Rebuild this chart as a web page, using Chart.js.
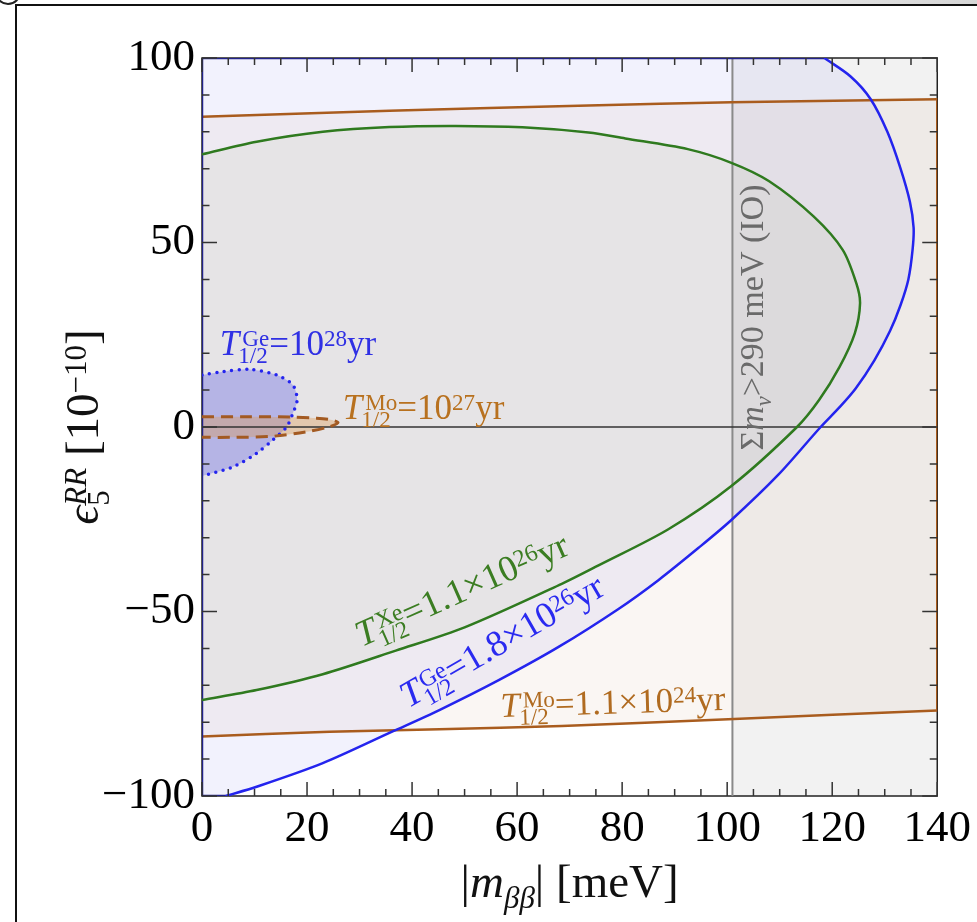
<!DOCTYPE html>
<html>
<head>
<meta charset="utf-8">
<script src="https://cdn.jsdelivr.net/npm/chart.js@4/dist/chart.umd.min.js"></script>
<style>
  html, body { margin: 0; padding: 0; background: #fff; }
  #wrap { position: relative; width: 977px; height: 922px; overflow: hidden; }
  #topbar { position: absolute; left: 0; top: 0; width: 977px; height: 5px;
    background: linear-gradient(to right, #fff 45%, #d6d6d6 100%); }
  #frame { position: absolute; left: 15px; top: 4px; right: -20px; bottom: -20px;
    border-top: 2px solid #111; border-left: 2px solid #111; }
  #corner { position: absolute; left: -5px; top: -21px; width: 22px; height: 22px;
    border: 2px solid #222; border-radius: 50%; }
  #chart { position: absolute; left: 0; top: 0; }
</style>
</head>
<body>
<div id="wrap">
  <div id="topbar"></div>
  <div id="corner"></div>
  <div id="frame"></div>
  <canvas id="chart" width="977" height="922"></canvas>
</div>
<script>
// axis ticks
const xTicks = [0, 20, 40, 60, 80, 100, 120, 140];
const yTicks = [-100, -50, 0, 50, 100];

// T1/2(Mo) = 1.1e24 yr, upper and lower line  [|m_bb| meV, eps 1e-10]
const moTop = [[0, 84.1], [35.7, 85.7], [73.6, 87.1], [100.8, 88.0], [140, 88.8]];
const moBottom = [[0, -83.9], [24.3, -82.6], [45.2, -81.9], [68.5, -81.0], [100.2, -79.2], [140, -76.8]];

// T1/2(Ge) = 1.8e26 yr, from top edge to bottom edge
const geCurve = [[118.5, 100], [123.5, 95], [127.3, 88.9], [130.5, 80], [133, 70.1], [134.8, 61],
  [135.5, 54], [135.3, 48], [134.5, 40], [133, 33], [131, 26], [128, 18], [124.5, 10.5], [121.5, 5.5],
  [117.8, 0], [109.7, -13], [100.8, -25.2], [94.5, -32.8], [86.9, -41.5], [79.3, -49.3], [67.9, -59.6],
  [56.5, -68.6], [45.2, -76.7], [36.3, -82.5], [23, -91.1], [10.4, -97.5], [4.5, -100]];

// T1/2(Xe) = 1.1e26 yr
const xeCurve = [[0, 73.9], [10.4, 77.3], [23, 80], [35.7, 81.3], [48.3, 81.6], [61, 81.2], [73.6, 79.8],
  [80.6, 78.2], [92.5, 75.3], [100.8, 71.6], [108, 66.6], [116.5, 57], [122, 48], [124.6, 38.9],
  [125.3, 33.5], [124.3, 25.4], [121.4, 16.3], [117.5, 7.3], [113.3, 0], [100.8, -16], [88.8, -27.7],
  [75.5, -37.5], [68.5, -42.5], [50, -54.3], [36.9, -60.6], [23, -67], [10.4, -71.3], [0, -74]];

// T1/2(Ge) = 1e28 yr (dotted)
const ge28Curve = [[0, 14.1], [4, 15], [9.1, 15.6], [14.2, 14.1], [17.3, 11.4], [18.1, 7.3], [17.3, 3.7],
  [16.1, 0], [13.5, -3.5], [10.4, -7.1], [5.9, -10.8], [0, -13.3]];

// T1/2(Mo) = 1e27 yr (dashed)
const mo27Curve = [[0, 2.8], [9, 2.8], [16.7, 2.7], [21.8, 2.4], [24.3, 2.0], [25.9, 1.2], [24.3, 0.1],
  [19.9, -1.3], [13.6, -2.5], [6, -2.8], [0, -2.8]];

// sum m_nu > 290 meV (IO)
const ioMass = 101;

const serif = '"Liberation Serif", "Times New Roman", serif';
const pts = arr => arr.map(([x, y]) => ({ x, y }));

const BLUE = '#2424ee';
const GREEN = '#2f7a1f';
const BROWN = '#a95c1e';

function line(data, color, width, order, extra) {
  return Object.assign({
    data: pts(data), showLine: true, pointRadius: 0, borderColor: color, borderWidth: width,
    backgroundColor: 'transparent', fill: false, tension: 0.3, order: order,
    borderJoinStyle: 'round'
  }, extra || {});
}
function region(data, color, order) {
  return { data: pts(data), showLine: true, pointRadius: 0, borderWidth: 0, borderColor: 'transparent',
    backgroundColor: color, fill: 'shape', tension: 0, order: order };
}

const datasets = [
  region([[ioMass, -100], [ioMass, 100], [140, 100], [140, -100]], 'rgba(0,0,0,0.05)', 20),
  region([...moTop, ...moBottom.slice().reverse()], 'rgba(170,110,50,0.06)', 19),
  region([[0, 100], ...geCurve, [0, -100]], 'rgba(90,90,230,0.08)', 18),
  line([[ioMass, -100], [ioMass, 100]], '#8a8a8a', 2, 12, { tension: 0 }),
  line([[0, 0], [140, 0]], '#333', 1.5, 11, { tension: 0 }),
  line(moTop, BROWN, 2.5, 10),
  line(moBottom, BROWN, 2.5, 9),
  line([[140, moTop[moTop.length - 1][1]], [140, moBottom[moBottom.length - 1][1]]], BROWN, 2.5, 8, { tension: 0 }),
  line([[geCurve[0][0], 100], [0, 100], [0, -100], [geCurve[geCurve.length - 1][0], -100]], '#22228a', 2.5, 7, { tension: 0 }),
  line(geCurve, BLUE, 2.5, 6),
  line(xeCurve, GREEN, 2.5, 5, { fill: 'shape', backgroundColor: 'rgba(160,175,110,0.09)' }),
  line(ge28Curve, BLUE, 3.5, 4, { fill: 'shape', backgroundColor: 'rgba(70,70,230,0.3)',
    borderDash: [0, 7.5], borderCapStyle: 'round' }),
  line(mo27Curve, '#a35a22', 3, 3, { fill: 'shape', backgroundColor: 'rgba(220,150,70,0.35)',
    borderDash: [12, 7] })
];

function font(size, italic) {
  return (italic ? 'italic ' : '') + size + 'px ' + serif;
}

// draws mixed text with sub/superscripts at origin, baseline left; returns width
function rich(ctx, parts, size, draw) {
  const s = size * 0.66;
  let cx = 0;
  for (const p of parts) {
    if (p.t !== undefined) {
      ctx.font = font(size, p.it);
      if (draw) ctx.fillText(p.t, cx, 0);
      cx += ctx.measureText(p.t).width;
    } else {
      let w = 0;
      if (p.sup) {
        const dx = p.dx || 0;
        ctx.font = font(s, p.supIt);
        if (draw) ctx.fillText(p.sup, cx + dx, -size * 0.25);
        w = Math.max(w, dx + ctx.measureText(p.sup).width);
      }
      if (p.sub) {
        const dx = p.sdx || 0;
        ctx.font = font(s, p.subIt);
        if (draw) ctx.fillText(p.sub, cx + dx, size * 0.24);
        w = Math.max(w, dx + ctx.measureText(p.sub).width);
      }
      cx += w;
    }
  }
  return cx;
}

const T = (iso, rest, exp) => [
  { t: 'T', it: true }, { sup: iso, sub: '1/2', dx: 3, sdx: -1 },
  { t: rest }, { sup: exp }, { t: 'yr' }
];

const labels = [
  { parts: T('Ge', '=10', '28'), at: [3.4, 19.5], angle: 0, color: '#3030e4', size: 35 },
  { parts: T('Mo', '=10', '27'), at: [26.8, 2.2], angle: 0, color: '#b8711f', size: 35 },
  { parts: T('Xe', '=1.1\u00d710', '26'), at: [30.4, -59.6], angle: -24, color: '#3b7d22', size: 36.5 },
  { parts: T('Ge', '=1.8\u00d710', '26'), at: [39.3, -76.2], angle: -30, color: '#2a2af0', size: 36.5 },
  { parts: T('Mo', '=1.1\u00d710', '24'), at: [56.9, -78.6], angle: -1.8, color: '#b06b20', size: 35 },
  { parts: [{ t: '\u03a3' }, { t: 'm', it: true }, { sub: '\u03bd', subIt: true }, { t: '>290 meV (IO)' }],
    at: [106.8, -6.4], angle: -90, color: '#6a6a6a', size: 34 }
];

const framePlugin = {
  id: 'frame',
  beforeDatasetsDraw(chart) {
    const { ctx, chartArea: a } = chart;
    ctx.save();
    ctx.strokeStyle = '#222';
    ctx.lineWidth = 1.5;
    ctx.strokeRect(a.left, a.top, a.right - a.left, a.bottom - a.top);
    ctx.restore();
  },
  afterDatasetsDraw(chart) {
    const { ctx, chartArea: a, scales: { x, y } } = chart;
    ctx.save();
    ctx.strokeStyle = '#333';
    ctx.lineWidth = 1.5;
    ctx.beginPath();
    for (let v = 0; v <= 140; v += 5) {
      const px = x.getPixelForValue(v);
      const len = v % 20 === 0 ? 14 : 7;
      ctx.moveTo(px, a.bottom); ctx.lineTo(px, a.bottom - len);
      ctx.moveTo(px, a.top); ctx.lineTo(px, a.top + len);
    }
    for (let v = -100; v <= 100; v += 10) {
      const py = y.getPixelForValue(v);
      const len = v % 50 === 0 ? 15 : 7.5;
      ctx.moveTo(a.left, py); ctx.lineTo(a.left + len, py);
      ctx.moveTo(a.right, py); ctx.lineTo(a.right - len, py);
    }
    ctx.stroke();
    ctx.restore();
  }
};

const textPlugin = {
  id: 'texts',
  afterDraw(chart) {
    const { ctx, chartArea: a, scales: { x, y } } = chart;
    ctx.save();
    ctx.textBaseline = 'alphabetic';
    ctx.textAlign = 'left';
    for (const l of labels) {
      ctx.save();
      ctx.fillStyle = l.color;
      ctx.translate(x.getPixelForValue(l.at[0]), y.getPixelForValue(l.at[1]));
      ctx.rotate(l.angle * Math.PI / 180);
      rich(ctx, l.parts, l.size, true);
      ctx.restore();
    }
    ctx.fillStyle = '#111';
    // x title
    const xt = [{ t: '|' }, { t: 'm', it: true }, { sub: '\u03b2\u03b2', subIt: true }, { t: '| [meV]' }];
    const xw = rich(ctx, xt, 47, false);
    ctx.save();
    ctx.translate((a.left + a.right) / 2 - xw / 2, 897);
    rich(ctx, xt, 47, true);
    ctx.restore();
    // y title
    const yt = [{ t: '\u03f5', it: true }, { sup: 'RR', sub: '5', supIt: true }, { t: ' [10' }, { sup: '\u221210' }, { t: ']' }];
    const yw = rich(ctx, yt, 47, false);
    ctx.save();
    ctx.translate(98, (a.top + a.bottom) / 2 + yw / 2);
    ctx.rotate(-Math.PI / 2);
    rich(ctx, yt, 47, true);
    ctx.restore();
    ctx.restore();
  }
};

const tickFont = { family: serif, size: 45 };
const tickLabel = v => (v < 0 ? '\u2212' + Math.abs(v) : String(v));

new Chart(document.getElementById('chart'), {
  type: 'scatter',
  data: { datasets },
  options: {
    responsive: false,
    devicePixelRatio: 1,
    animation: false,
    events: [],
    layout: { padding: { top: 58, right: 37, left: 0, bottom: 0 } },
    plugins: {
      legend: { display: false },
      tooltip: { enabled: false },
      filler: { drawTime: 'beforeDatasetsDraw' }
    },
    scales: {
      x: {
        type: 'linear', min: 0, max: 140,
        afterBuildTicks: s => { s.ticks = xTicks.map(v => ({ value: v })); },
        afterFit: s => { s.height = 126; },
        grid: { display: false, drawTicks: false },
        border: { display: false },
        ticks: { font: tickFont, color: '#000', padding: 6, maxRotation: 0, autoSkip: false, callback: tickLabel }
      },
      y: {
        type: 'linear', min: -100, max: 100,
        afterBuildTicks: s => { s.ticks = yTicks.map(v => ({ value: v })); },
        afterFit: s => { s.width = 202; },
        grid: { display: false, drawTicks: false },
        border: { display: false },
        ticks: { font: tickFont, color: '#000', padding: 7, autoSkip: false, callback: tickLabel }
      }
    }
  },
  plugins: [framePlugin, textPlugin]
});
</script>
</body>
</html>
